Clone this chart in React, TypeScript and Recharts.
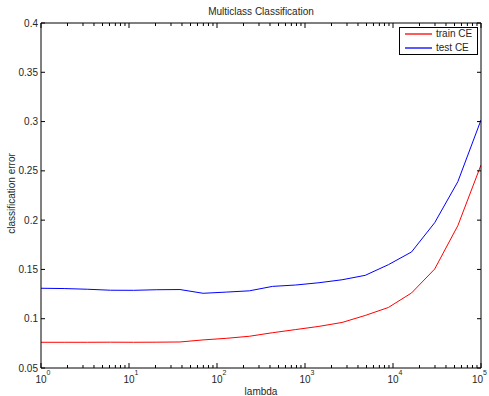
import React from 'react';
import { LineChart, Line, XAxis, YAxis, Label } from 'recharts';

const lambdas = [1, 1.833, 3.36, 6.158, 11.29, 20.69, 37.93, 69.52, 127.4, 233.6, 428.1, 784.8, 1438, 2637, 4833, 8859, 16238, 29764, 54556, 100000];
const trainCE = [0.0761, 0.0761, 0.0761, 0.0762, 0.0761, 0.0762, 0.0764, 0.0785, 0.0801, 0.0822, 0.0858, 0.089, 0.0922, 0.0962, 0.1033, 0.1114, 0.1261, 0.1504, 0.1944, 0.256];
const testCE = [0.1309, 0.1306, 0.1299, 0.1289, 0.1288, 0.1294, 0.1296, 0.1258, 0.127, 0.1283, 0.1328, 0.1342, 0.1365, 0.1395, 0.144, 0.1548, 0.1677, 0.1974, 0.239, 0.3016];

const seriesNames = ['train CE', 'test CE'];
const seriesColors = ['#ff0000', '#0000ff'];

const xMajorTicks = [1, 10, 100, 1000, 10000, 100000];
const xMajorExponents = ['0', '1', '2', '3', '4', '5'];
const xMinorMultipliers = [2, 3, 4, 5, 6, 7, 8, 9];
const yTicks = [0.05, 0.1, 0.15, 0.2, 0.25, 0.3, 0.35, 0.4];
const yTickLabels = ['0.05', '0.1', '0.15', '0.2', '0.25', '0.3', '0.35', '0.4'];

const title = 'Multiclass Classification';
const xLabel = 'lambda';
const yLabel = 'classification error';

const data = lambdas.map((l, i) => ({ lambda: l, train: trainCE[i], test: testCE[i] }));
const xTicks = [
  ...xMajorTicks,
  ...xMajorTicks.slice(0, -1).flatMap((d) => xMinorMultipliers.map((m) => d * m)),
].sort((a, b) => a - b);

const FONT = '"Liberation Sans", Arial, Helvetica, sans-serif';
const TXT = '#262626';

const BottomTick = (props: any) => {
  const { x, y, payload } = props;
  const idx = xMajorTicks.indexOf(payload.value);
  const major = idx >= 0;
  const shift = idx === xMajorTicks.length - 1 ? -3.5 : 0;
  return (
    <g>
      <line x1={x} x2={x} y1={y} y2={y - (major ? 5 : 3)} stroke="#000" strokeWidth={1} />
      {major && (
        <>
          <text x={x + shift} y={y + 15.3} textAnchor="middle" fontSize={10} fill={TXT} fontFamily={FONT}>10</text>
          <text x={x + shift + 5.5} y={y + 7} textAnchor="start" fontSize={7} fill={TXT} fontFamily={FONT}>{xMajorExponents[idx]}</text>
        </>
      )}
    </g>
  );
};

const TopTick = (props: any) => {
  const { x, y, payload } = props;
  const major = xMajorTicks.indexOf(payload.value) >= 0;
  return <line x1={x} x2={x} y1={y} y2={y + (major ? 5 : 3)} stroke="#000" strokeWidth={1} />;
};

const LeftTick = (props: any) => {
  const { x, y, payload } = props;
  const idx = yTicks.indexOf(payload.value);
  return (
    <g>
      <line x1={x} x2={x + 4} y1={y} y2={y} stroke="#000" strokeWidth={1} />
      <text x={x - 3} y={y + 3.5} textAnchor="end" fontSize={10} fill={TXT} fontFamily={FONT}>
        {idx >= 0 ? yTickLabels[idx] : ''}
      </text>
    </g>
  );
};

const RightTick = (props: any) => {
  const { x, y } = props;
  return <line x1={x} x2={x - 4} y1={y} y2={y} stroke="#000" strokeWidth={1} />;
};

export default function App() {
  return (
    <div style={{ position: 'absolute', left: 0, top: 0, width: 489, height: 396, background: '#fff' }}>
      <LineChart width={489} height={396} data={data} margin={{ top: 0, right: 0, bottom: 0, left: 0 }}>
        <XAxis
          xAxisId="bottom"
          dataKey="lambda"
          type="number"
          scale="log"
          domain={[1, 100000]}
          allowDataOverflow
          ticks={xTicks}
          interval={0}
          tick={<BottomTick />}
          tickLine={false}
          tickSize={0}
          tickMargin={0}
          height={28}
          axisLine={{ stroke: '#000', strokeWidth: 1 }}
        >
          <Label
            content={(p: any) => {
              const vb = p.viewBox;
              return (
                <text x={vb.x + vb.width / 2} y={vb.y + 27} textAnchor="middle" fontSize={10} fill={TXT} fontFamily={FONT}>
                  {xLabel}
                </text>
              );
            }}
          />
        </XAxis>
        <XAxis
          xAxisId="top"
          orientation="top"
          dataKey="lambda"
          type="number"
          scale="log"
          domain={[1, 100000]}
          allowDataOverflow
          ticks={xTicks}
          interval={0}
          tick={<TopTick />}
          tickLine={false}
          tickSize={0}
          tickMargin={0}
          height={23}
          axisLine={{ stroke: '#000', strokeWidth: 1 }}
        >
          <Label
            content={(p: any) => {
              const vb = p.viewBox;
              return (
                <text x={vb.x + vb.width / 2} y={vb.y + 15} textAnchor="middle" fontSize={10} fill={TXT} fontFamily={FONT}>
                  {title}
                </text>
              );
            }}
          />
        </XAxis>
        <YAxis
          yAxisId="left"
          type="number"
          domain={[0.05, 0.4]}
          allowDataOverflow
          ticks={yTicks}
          interval={0}
          tick={<LeftTick />}
          tickLine={false}
          tickSize={0}
          tickMargin={0}
          width={41}
          axisLine={{ stroke: '#000', strokeWidth: 1 }}
        >
          <Label
            content={(p: any) => {
              const vb = p.viewBox;
              const cx = vb.x + 15;
              const cy = vb.y + vb.height / 2 - 2;
              return (
                <text
                  x={cx}
                  y={cy}
                  transform={`rotate(-90, ${cx}, ${cy})`}
                  textAnchor="middle"
                  fontSize={10}
                  fill={TXT}
                  fontFamily={FONT}
                >
                  {yLabel}
                </text>
              );
            }}
          />
        </YAxis>
        <YAxis
          yAxisId="right"
          orientation="right"
          type="number"
          domain={[0.05, 0.4]}
          allowDataOverflow
          ticks={yTicks}
          interval={0}
          tick={<RightTick />}
          tickLine={false}
          tickSize={0}
          tickMargin={0}
          width={8}
          axisLine={{ stroke: '#000', strokeWidth: 1 }}
        />
        <Line
          xAxisId="bottom"
          yAxisId="left"
          type="linear"
          dataKey="train"
          name={seriesNames[0]}
          stroke={seriesColors[0]}
          strokeWidth={1}
          dot={false}
          isAnimationActive={false}
        />
        <Line
          xAxisId="bottom"
          yAxisId="left"
          type="linear"
          dataKey="test"
          name={seriesNames[1]}
          stroke={seriesColors[1]}
          strokeWidth={1}
          dot={false}
          isAnimationActive={false}
        />
      </LineChart>
      <svg
        width={80}
        height={29}
        style={{ position: 'absolute', left: 399, top: 27, overflow: 'visible' }}
      >
        <rect x={0.5} y={0.5} width={78} height={27} fill="#fff" stroke="#000" strokeWidth={1} />
        {seriesNames.map((n, i) => (
          <g key={n}>
            <line x1={6} x2={33} y1={7 + i * 14} y2={7 + i * 14} stroke={seriesColors[i]} strokeWidth={1.3} />
            <text x={37} y={10 + i * 14} fontSize={10} fill={TXT} fontFamily={FONT}>
              {n}
            </text>
          </g>
        ))}
      </svg>
    </div>
  );
}
